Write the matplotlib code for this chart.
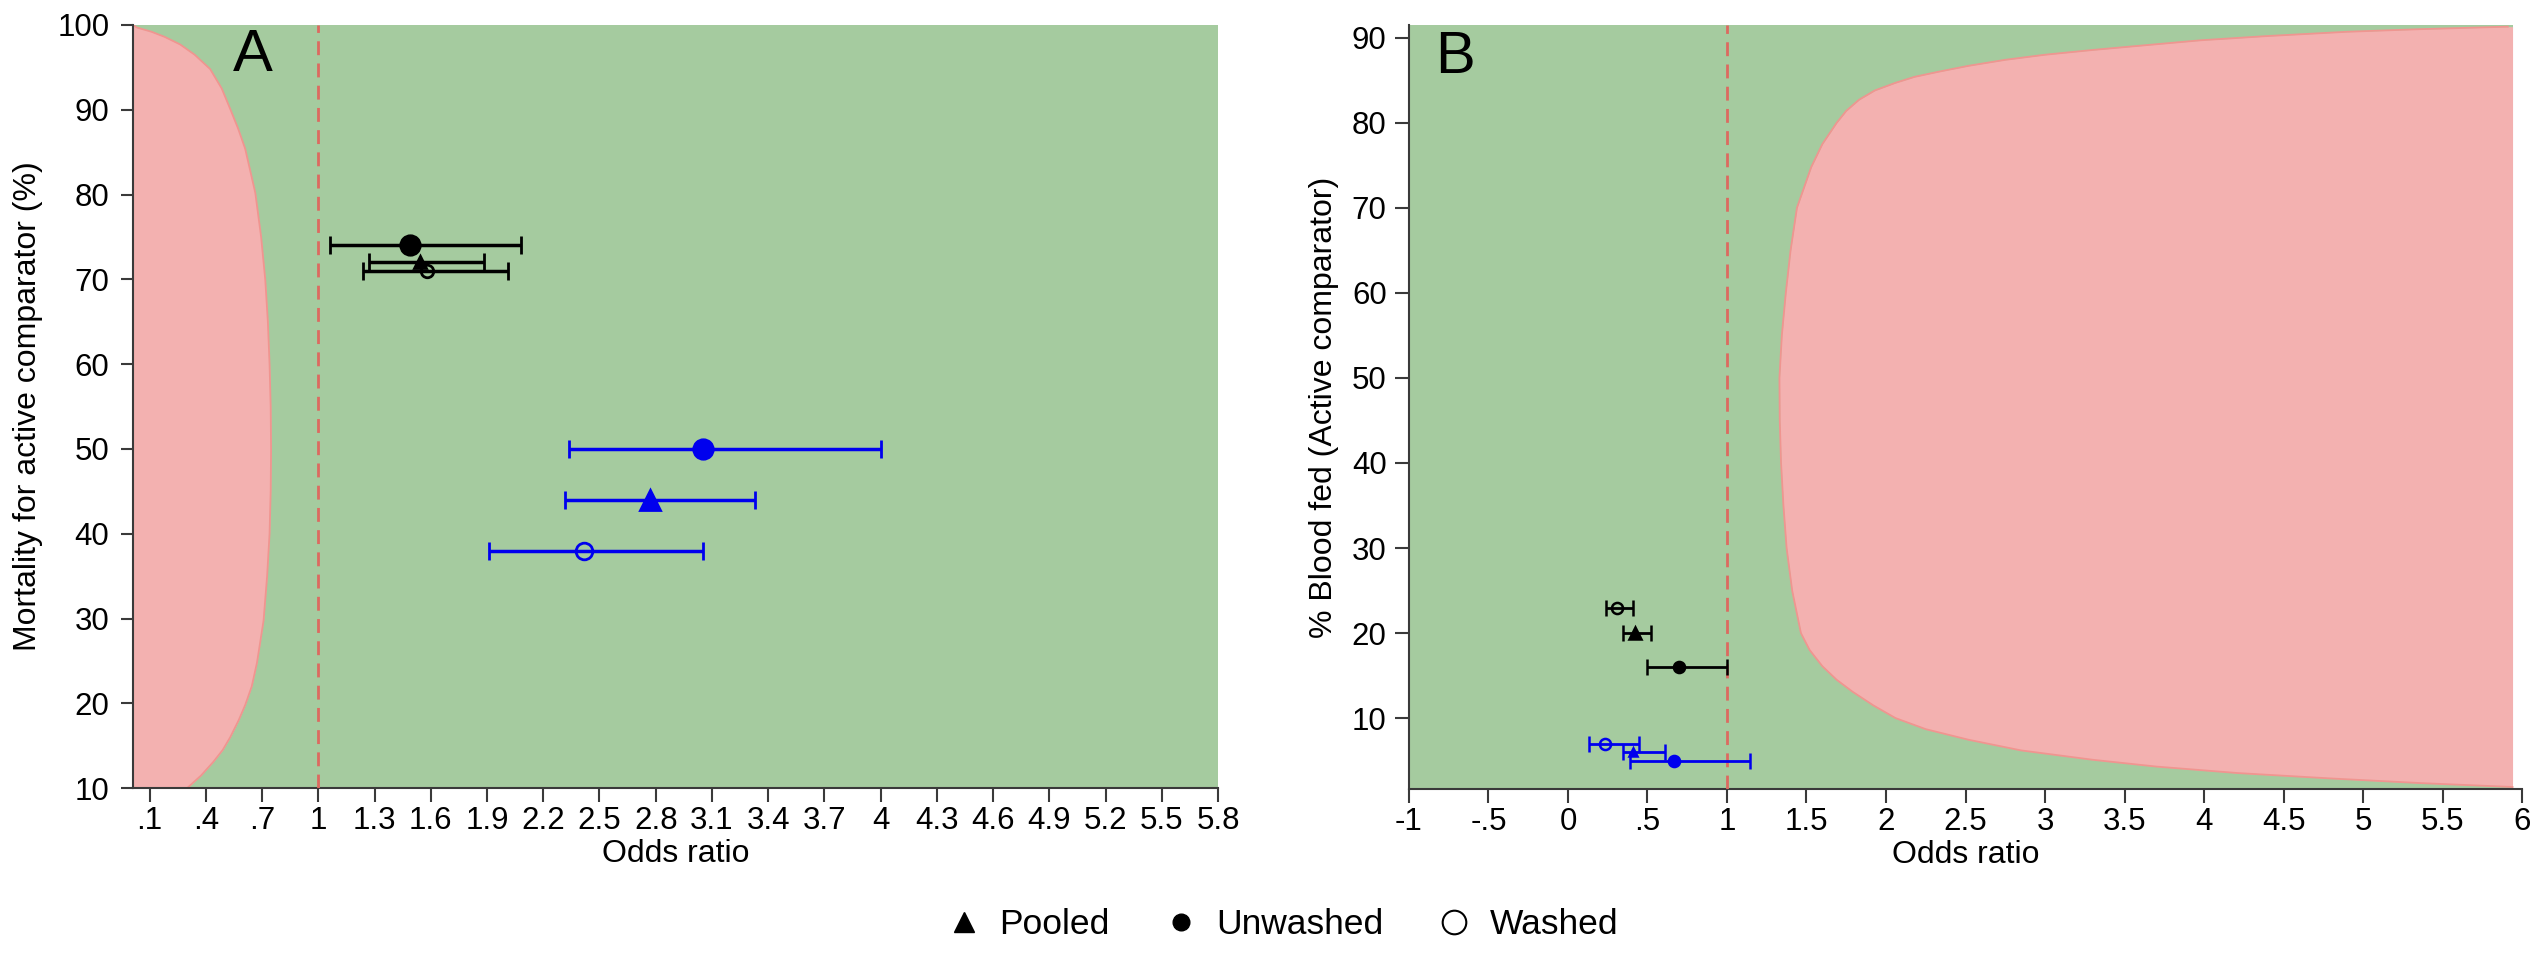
import matplotlib
matplotlib.use('Agg')
import matplotlib.pyplot as plt
from matplotlib.lines import Line2D

plt.rcParams['font.family'] = ['Liberation Sans', 'DejaVu Sans']

# ---- data ----
# order inside each group: unwashed, pooled, washed
kinds = ['Unwashed', 'Pooled', 'Washed']

# panel A : mortality
a_black_or = [1.49, 1.545, 1.58]
a_black_lo = [1.06, 1.27, 1.24]
a_black_hi = [2.08, 1.885, 2.01]
a_black_y = [74, 72, 71]

a_blue_or = [3.05, 2.77, 2.42]
a_blue_lo = [2.34, 2.315, 1.91]
a_blue_hi = [4.00, 3.33, 3.05]
a_blue_y = [50, 44, 38]

# panel B : blood feeding
b_black_or = [0.70, 0.42, 0.307]
b_black_lo = [0.50, 0.348, 0.238]
b_black_hi = [1.00, 0.52, 0.41]
b_black_y = [16, 20, 23]

b_blue_or = [0.67, 0.41, 0.234]
b_blue_lo = [0.39, 0.348, 0.13]
b_blue_hi = [1.145, 0.61, 0.445]
b_blue_y = [5, 6, 7]

# edge of the red (inferior) region
a_edge_y = [100, 99.7, 99.2, 98.6, 97.7, 96.5, 94.8, 92.5, 90.1, 87.8, 85.4, 80.2, 75, 70, 65, 60, 55, 49.9,
            45, 40, 35, 29.75, 24.8, 22, 19.8, 18, 16.0, 14.5, 13.1, 11.5, 10]
a_edge_or = [0.012, 0.032, 0.11, 0.18, 0.263, 0.34, 0.423, 0.485, 0.530, 0.572, 0.61, 0.664, 0.695, 0.717, 0.731,
             0.74, 0.746, 0.748, 0.746, 0.74, 0.727, 0.708, 0.673, 0.645, 0.61, 0.575, 0.53, 0.49, 0.44, 0.375, 0.30]

b_edge_y = [91.3, 91.0, 90.7, 90.2, 89.7, 89.1, 88.56, 88.0, 87.4, 86.7, 86.0, 85.4, 84.7, 83.8, 82.7, 81.4, 80,
            77.5, 74.8, 70, 65, 60, 55, 50, 45, 40, 35, 30, 25, 20, 18, 16.1, 14.5, 13.1, 11.5, 10, 8.7, 7.45,
            6.2, 5.1, 4.3, 3.54, 2.9, 2.36, 1.9]
b_edge_or = [5.91, 5.35, 4.90, 4.40, 3.98, 3.62, 3.30, 3.00, 2.75, 2.52, 2.33, 2.18, 2.06, 1.93, 1.83, 1.75, 1.69,
             1.60, 1.53, 1.44, 1.40, 1.37, 1.345, 1.33, 1.332, 1.34, 1.355, 1.375, 1.41, 1.465, 1.52, 1.60, 1.69,
             1.79, 1.92, 2.06, 2.25, 2.52, 2.85, 3.30, 3.70, 4.21, 4.80, 5.36, 5.94]
b_grid_max = 5.94

# axes ranges and ticks
a_xlim = (0.012, 5.8)
a_ylim = (10, 100)
a_xticks = [.1, .4, .7, 1, 1.3, 1.6, 1.9, 2.2, 2.5, 2.8, 3.1, 3.4, 3.7, 4, 4.3, 4.6, 4.9, 5.2, 5.5, 5.8]
a_xlabels = ['.1', '.4', '.7', '1', '1.3', '1.6', '1.9', '2.2', '2.5', '2.8', '3.1', '3.4', '3.7', '4',
             '4.3', '4.6', '4.9', '5.2', '5.5', '5.8']
a_yticks = [10, 20, 30, 40, 50, 60, 70, 80, 90, 100]

b_xlim = (-1, 6)
b_ylim = (1.65, 91.5)
b_xticks = [-1, -.5, 0, .5, 1, 1.5, 2, 2.5, 3, 3.5, 4, 4.5, 5, 5.5, 6]
b_xlabels = ['-1', '-.5', '0', '.5', '1', '1.5', '2', '2.5', '3', '3.5', '4', '4.5', '5', '5.5', '6']
b_yticks = [10, 20, 30, 40, 50, 60, 70, 80, 90]

GREEN = '#a5cb9f'
PINK = '#f3b1b0'
PINK_EDGE = '#f09590'
REF = '#dc6a60'
BLUE = '#0000ee'
AXC = '#3a3a3a'


def style_axis(ax, xticks, xlabels, yticks, ytlen, ypad):
	for s in ['top', 'right']:
		ax.spines[s].set_visible(False)
	for s in ['left', 'bottom']:
		ax.spines[s].set_color(AXC)
		ax.spines[s].set_linewidth(1.5)
	ax.set_xticks(xticks)
	ax.set_xticklabels(xlabels)
	ax.set_yticks(yticks)
	ax.tick_params(axis='x', length=10, width=1.5, color=AXC, pad=3, labelsize=22.5)
	ax.tick_params(axis='y', length=ytlen, width=1.5, color=AXC, pad=ypad, labelsize=22.5)


def draw_points(ax, orr, lo, hi, y, colour, sizes, lw, cap, mew):
	markers = ['o', '^', 'o']
	for i in range(len(kinds)):
		face = 'none' if kinds[i] == 'Washed' else colour
		ax.errorbar(orr[i], y[i], xerr=[[orr[i] - lo[i]], [hi[i] - orr[i]]], fmt=markers[i],
			color=colour, mfc=face, mec=colour, ms=sizes[i], mew=mew,
			elinewidth=lw, capsize=cap, capthick=lw, zorder=5)


fig = plt.figure(figsize=(25.45, 9.6), dpi=100)

# ---- panel A ----
ax1 = fig.add_axes([0.0523, 0.179, 0.4263, 0.795])
ax1.set_facecolor(GREEN)
ax1.fill_betweenx(a_edge_y, a_xlim[0], a_edge_or, color=PINK, lw=0, zorder=1)
ax1.plot(a_edge_or, a_edge_y, color=PINK_EDGE, lw=1.3, zorder=2)
ax1.axvline(1, color=REF, lw=2, dashes=(5, 3), zorder=3)
draw_points(ax1, a_black_or, a_black_lo, a_black_hi, a_black_y, 'black', [14, 9, 9], 2.5, 6.5, 2)
draw_points(ax1, a_blue_or, a_blue_lo, a_blue_hi, a_blue_y, BLUE, [14, 14, 12], 2.5, 6.5, 2)
ax1.set_xlim(a_xlim)
ax1.set_ylim(a_ylim)
style_axis(ax1, a_xticks, a_xlabels, a_yticks, 9, 8)
ax1.set_xlabel('Odds ratio', fontsize=23, labelpad=2)
ax1.set_ylabel('Mortality for active comparator (%)', fontsize=23, labelpad=10)
ax1.text(0.11, 0.96, 'A', transform=ax1.transAxes, fontsize=43, ha='center', va='center')

# ---- panel B ----
ax2 = fig.add_axes([0.5536, 0.178, 0.4374, 0.796])
ax2.set_facecolor('white')
ax2.axvspan(b_xlim[0], b_grid_max, color=GREEN, lw=0, zorder=0)
ax2.fill_betweenx(b_edge_y, b_edge_or, b_grid_max, color=PINK, lw=0, zorder=1)
ax2.plot(b_edge_or, b_edge_y, color=PINK_EDGE, lw=1.3, zorder=2)
ax2.axvline(1, color=REF, lw=2, dashes=(5, 3), zorder=3)
draw_points(ax2, b_black_or, b_black_lo, b_black_hi, b_black_y, 'black', [8, 8, 8], 2, 5.5, 1.8)
draw_points(ax2, b_blue_or, b_blue_lo, b_blue_hi, b_blue_y, BLUE, [8, 6, 8], 2, 5.5, 1.8)
ax2.set_xlim(b_xlim)
ax2.set_ylim(b_ylim)
style_axis(ax2, b_xticks, b_xlabels, b_yticks, 10, 6)
ax2.set_xlabel('Odds ratio', fontsize=23, labelpad=2)
ax2.set_ylabel('% Blood fed (Active comparator)', fontsize=23, labelpad=9)
ax2.text(0.041, 0.957, 'B', transform=ax2.transAxes, fontsize=43, ha='center', va='center')

# ---- shared legend ----
handles = [Line2D([], [], ls='none', marker='^', color='black', ms=14),
           Line2D([], [], ls='none', marker='o', color='black', ms=12),
           Line2D([], [], ls='none', marker='o', mfc='none', mec='black', mew=1.5, ms=17)]
fig.legend(handles, ['Pooled', 'Unwashed', 'Washed'], loc='center', bbox_to_anchor=(0.5045, 0.0365),
           ncol=3, frameon=False, fontsize=25.5, handlelength=0.8, handletextpad=0.6, columnspacing=1.6)

fig.savefig('out.png', dpi=100)
